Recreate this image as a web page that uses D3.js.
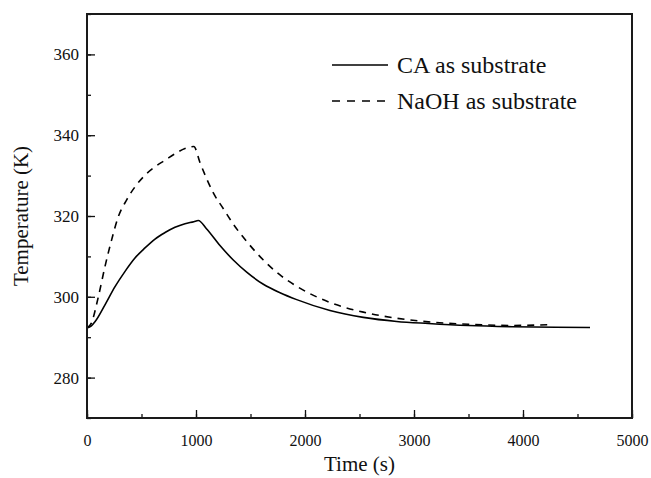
<!DOCTYPE html>
<html>
<head>
<meta charset="utf-8">
<script src="https://cdn.jsdelivr.net/npm/d3@7"></script>
<style>
  html, body { margin: 0; padding: 0; background: #fff; }
  svg { display: block; }
  svg text { font-family: "Liberation Serif", "Times New Roman", "DejaVu Serif", serif !important; fill: #111; }
</style>
</head>
<body>
<svg id="chart" width="651" height="478"></svg>
<script>
// ---- data ----
const caTime = [0, 40, 73, 165, 257, 349, 440, 532, 624, 716, 807, 899, 980, 1021, 1098, 1220, 1342, 1465, 1618, 1771, 1924, 2229, 2535, 2841, 3131, 3500, 3900, 4300, 4615];
const caTemp = [292.3, 292.8, 293.8, 298.0, 302.5, 306.3, 309.6, 312.1, 314.3, 315.9, 317.2, 318.1, 318.6, 318.9, 316.8, 312.7, 309.1, 306.1, 303.1, 301.0, 299.3, 296.6, 294.9, 293.9, 293.4, 292.9, 292.6, 292.45, 292.4];

const naohTime = [0, 40, 104, 165, 226, 287, 364, 440, 532, 624, 716, 807, 899, 980, 1037, 1098, 1159, 1251, 1342, 1465, 1618, 1771, 1924, 2229, 2535, 2841, 3131, 3500, 3900, 4260];
const naohTemp = [292.3, 293.5, 300.0, 307.5, 314.1, 319.8, 324.0, 327.2, 330.1, 332.2, 333.8, 335.4, 336.7, 337.2, 333.2, 329.2, 325.7, 321.8, 318.0, 313.7, 309.1, 305.4, 302.6, 298.6, 296.2, 294.7, 293.8, 293.2, 292.9, 293.1];

const seriesNames = ["CA as substrate", "NaOH as substrate"];
const xTicks = [0, 1000, 2000, 3000, 4000, 5000];
const yTicks = [280, 300, 320, 340, 360];

// ---- layout ----
const svg = d3.select("#chart");
const mLeft = 87, mRight = 632, mTop = 14, mBottom = 418;
const x = d3.scaleLinear().domain([0, 5000]).range([mLeft, mRight]);
const y = d3.scaleLinear().domain([270, 370]).range([mBottom, mTop]);

const caData = caTime.map((t, i) => ({t, v: caTemp[i]}));
const naohData = naohTime.map((t, i) => ({t, v: naohTemp[i]}));

const line = d3.line().x(d => x(d.t)).y(d => y(d.v)).curve(d3.curveMonotoneX);

const plot = svg.append("g");
plot.append("path").datum(caData).attr("d", line)
  .attr("fill", "none").attr("stroke", "#000").attr("stroke-width", 1.6);
plot.append("path").datum(naohData).attr("d", line)
  .attr("fill", "none").attr("stroke", "#000").attr("stroke-width", 1.6)
  .attr("stroke-dasharray", "7,6");

// ---- axes (inward ticks) ----
const minorX = d3.range(0, 5001, 500);
const minorY = d3.range(270, 371, 10);

const gx = svg.append("g").attr("transform", `translate(0,${mBottom})`);
gx.call(d3.axisBottom(x).tickValues(minorX).tickSize(-4).tickFormat(""));
gx.select(".domain").remove();
gx.selectAll("line").attr("stroke", "#111").attr("stroke-width", 1.3);
const gx2 = svg.append("g").attr("transform", `translate(0,${mBottom})`);
gx2.call(d3.axisBottom(x).tickValues(xTicks).tickSize(-8).tickPadding(17).tickFormat(d3.format("d")));
gx2.select(".domain").remove();
gx2.selectAll("line").attr("stroke", "#111").attr("stroke-width", 1.3);
gx2.selectAll("text").attr("font-size", 16).attr("fill", "#111");

const gy = svg.append("g").attr("transform", `translate(${mLeft},0)`);
gy.call(d3.axisLeft(y).tickValues(minorY).tickSize(-4).tickFormat(""));
gy.select(".domain").remove();
gy.selectAll("line").attr("stroke", "#111").attr("stroke-width", 1.3);
const gy2 = svg.append("g").attr("transform", `translate(${mLeft},0)`);
gy2.call(d3.axisLeft(y).tickValues(yTicks).tickSize(-8).tickPadding(8).tickFormat(d3.format("d")));
gy2.select(".domain").remove();
gy2.selectAll("line").attr("stroke", "#111").attr("stroke-width", 1.3);
gy2.selectAll("text").attr("font-size", 17).attr("fill", "#111");

// frame
svg.append("rect").attr("x", mLeft).attr("y", mTop)
  .attr("width", mRight - mLeft).attr("height", mBottom - mTop)
  .attr("fill", "none").attr("stroke", "#1a1a1a").attr("stroke-width", 2);

// axis titles
svg.append("text").attr("x", (mLeft + mRight) / 2).attr("y", 471)
  .attr("text-anchor", "middle").attr("font-size", 21).text("Time (s)");
svg.append("text").attr("transform", `translate(28,${(mTop + mBottom) / 2}) rotate(-90)`)
  .attr("text-anchor", "middle").attr("font-size", 21).text("Temperature (K)");

// legend
const legend = svg.append("g");
const legY = [65, 101];
seriesNames.forEach((name, i) => {
  legend.append("line").attr("x1", 332).attr("x2", 388).attr("y1", legY[i]).attr("y2", legY[i])
    .attr("stroke", "#000").attr("stroke-width", 1.6)
    .attr("stroke-dasharray", i === 1 ? "8,7" : null);
  legend.append("text").attr("x", 397).attr("y", legY[i] + 8)
    .attr("font-size", 24).text(name);
});
</script>
</body>
</html>
